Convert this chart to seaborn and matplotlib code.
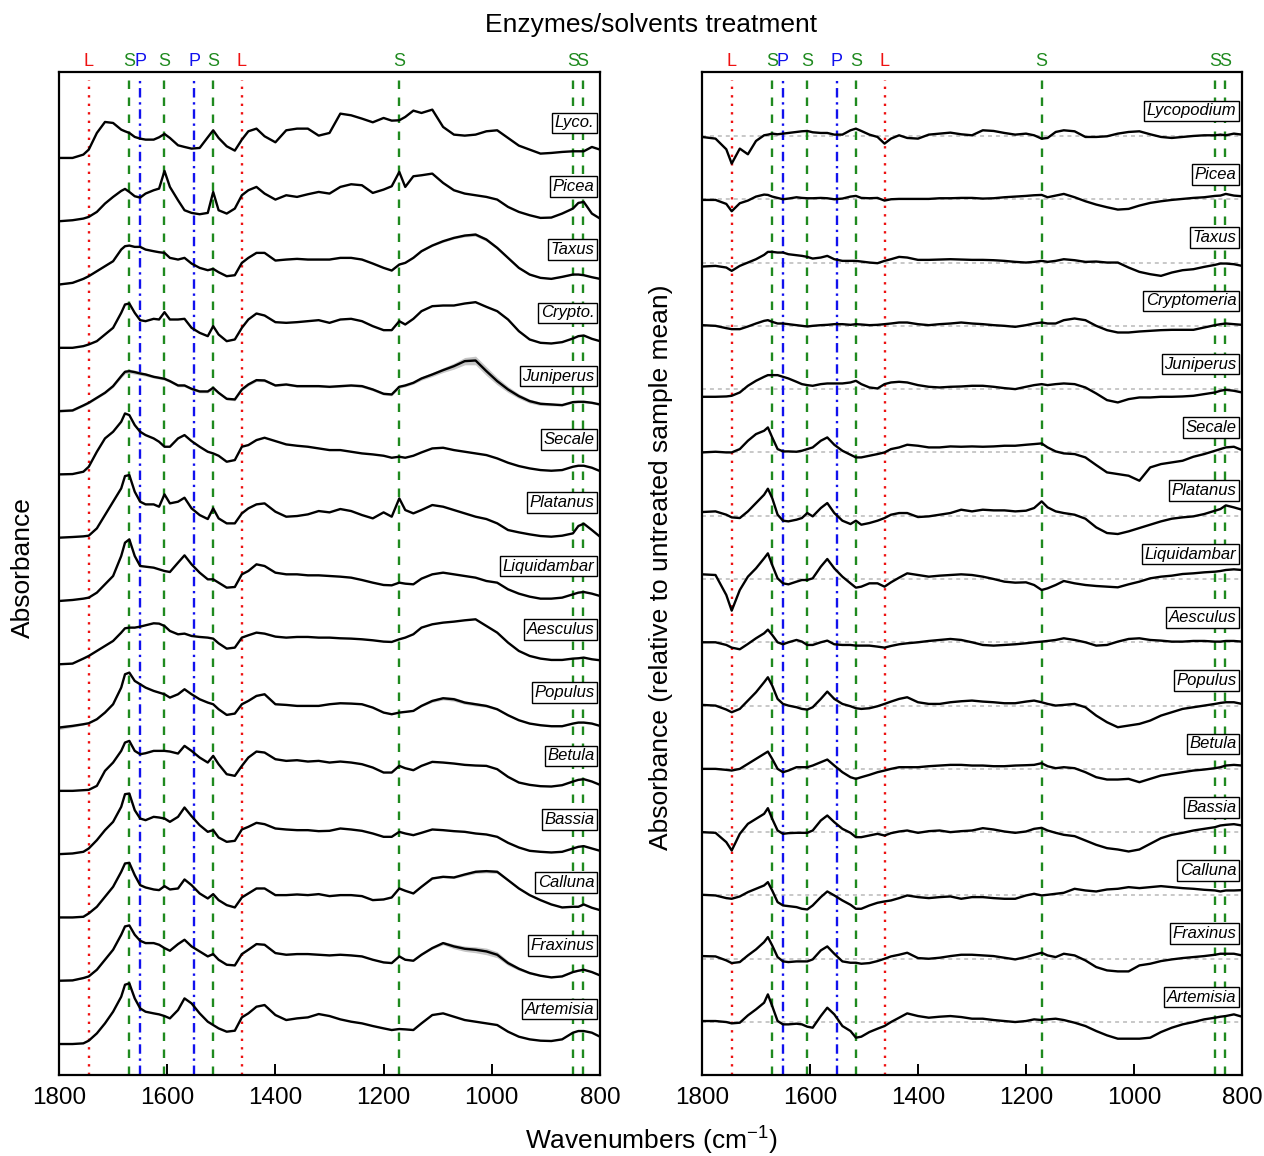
import numpy as np
import pandas as pd
import seaborn as sns
import matplotlib.pyplot as plt
import matplotlib.transforms as mtransforms

# wavenumbers (cm-1) at which the spectra were read
wavenumber = [1800, 1775, 1755, 1745, 1730, 1715, 1700, 1685, 1678, 1670,
              1660, 1650, 1640, 1625, 1615, 1605, 1595, 1580, 1568, 1555,
              1540, 1525, 1515, 1505, 1490, 1475, 1462, 1450, 1435, 1420,
              1400, 1380, 1360, 1340, 1320, 1300, 1280, 1260, 1240, 1220,
              1200, 1185, 1171, 1160, 1145, 1130, 1110, 1090, 1070, 1050,
              1030, 1010, 990, 970, 950, 930, 910, 890, 870, 850,
              840, 830, 815, 800]

# ---- left panel: treated spectra (arbitrary absorbance units) ----
lyco_raw = [0, 0, 10, 25, 75, 108, 105, 85, 80, 75,
            63, 58, 55, 55, 62, 72, 60, 38, 33, 28,
            30, 62, 83, 60, 35, 22, 55, 80, 88, 65,
            47, 83, 88, 88, 67, 75, 133, 128, 118, 107,
            120, 112, 113, 123, 142, 135, 145, 93, 70, 67,
            70, 80, 83, 60, 37, 25, 13, 15, 18, 20,
            20, 20, 33, 25]
picea_raw = [0, 3, 8, 13, 28, 53, 73, 91, 97, 88,
             75, 71, 83, 93, 98, 151, 103, 63, 33, 25,
             21, 25, 88, 33, 23, 38, 78, 93, 103, 83,
             65, 78, 73, 81, 88, 83, 103, 111, 108, 85,
             95, 105, 148, 103, 135, 138, 143, 115, 93, 83,
             78, 73, 65, 43, 28, 18, 10, 11, 23, 38,
             55, 58, 23, 8]
taxus_raw = [0, 5, 17, 25, 40, 55, 70, 105, 115, 117,
             113, 113, 105, 100, 97, 95, 80, 75, 80, 63,
             50, 43, 47, 37, 25, 28, 65, 80, 95, 95,
             72, 75, 77, 75, 75, 75, 80, 80, 75, 63,
             50, 42, 60, 65, 80, 100, 117, 130, 140, 147,
             150, 135, 110, 80, 50, 30, 20, 17, 23, 30,
             30, 28, 22, 17]
crypto_raw = [0, 0, 5, 10, 20, 40, 60, 105, 130, 133,
              105, 83, 80, 87, 85, 107, 85, 85, 87, 60,
              45, 35, 65, 40, 20, 25, 60, 85, 103, 97,
              77, 75, 77, 80, 83, 75, 85, 87, 80, 65,
              53, 53, 80, 70, 87, 110, 125, 127, 127, 133,
              137, 123, 110, 85, 50, 25, 15, 13, 17, 28,
              35, 37, 27, 20]
juniperus_raw = [0, 2, 17, 25, 40, 55, 75, 105, 118, 120,
                 117, 113, 110, 103, 100, 97, 90, 77, 77, 67,
                 59, 59, 70, 55, 37, 35, 65, 80, 93, 92,
                 77, 80, 75, 75, 75, 73, 75, 77, 75, 65,
                 52, 50, 73, 77, 85, 98, 110, 123, 135, 150,
                 152, 120, 90, 65, 45, 30, 22, 20, 18, 27,
                 28, 28, 25, 20]
secale_raw = [0, 1, 8, 23, 68, 108, 128, 158, 183, 178,
              148, 128, 118, 108, 98, 83, 83, 108, 118, 100,
              83, 68, 63, 56, 38, 43, 83, 88, 103, 110,
              100, 90, 86, 83, 78, 73, 73, 68, 63, 60,
              56, 50, 53, 50, 56, 66, 78, 80, 73, 68,
              63, 58, 48, 35, 25, 18, 13, 11, 13, 23,
              26, 26, 20, 10]
platanus_raw = [0, 2, 4, 6, 28, 68, 108, 148, 185, 188,
                138, 108, 100, 100, 93, 130, 103, 108, 120, 88,
                68, 56, 88, 58, 43, 43, 73, 88, 100, 103,
                78, 63, 65, 70, 80, 76, 86, 80, 68, 58,
                76, 63, 118, 83, 73, 83, 98, 93, 83, 73,
                63, 56, 43, 23, 16, 10, 5, 3, 6, 13,
                35, 42, 23, 3]
liquidambar_raw = [0, 3, 7, 10, 25, 50, 75, 135, 175, 185,
                   135, 105, 103, 100, 95, 90, 87, 115, 137, 110,
                   85, 65, 65, 55, 40, 42, 80, 90, 110, 105,
                   85, 80, 80, 77, 77, 75, 73, 70, 63, 55,
                   48, 47, 55, 52, 50, 67, 80, 85, 80, 75,
                   70, 60, 55, 35, 22, 13, 7, 7, 10, 20,
                   25, 27, 22, 15]
aesculus_raw = [0, 2, 17, 25, 40, 55, 70, 95, 108, 110,
                110, 113, 117, 123, 122, 115, 100, 90, 92, 85,
                82, 80, 77, 63, 47, 50, 80, 87, 95, 92,
                83, 80, 82, 82, 80, 80, 78, 77, 75, 72,
                68, 67, 75, 80, 90, 110, 120, 125, 128, 132,
                135, 115, 95, 65, 40, 25, 17, 13, 13, 17,
                18, 20, 15, 12]
populus_raw = [0, 5, 10, 13, 25, 45, 70, 120, 160, 165,
               140, 130, 120, 110, 105, 100, 90, 100, 115, 100,
               85, 75, 70, 55, 38, 42, 70, 80, 95, 100,
               70, 68, 65, 65, 65, 70, 73, 72, 70, 60,
               45, 40, 45, 47, 50, 65, 80, 88, 85, 75,
               70, 65, 55, 37, 22, 12, 7, 4, 4, 12,
               15, 15, 12, 5]
betula_raw = [0, 0, 2, 3, 15, 60, 85, 120, 145, 150,
              120, 110, 113, 120, 120, 120, 118, 112, 135, 120,
              100, 85, 105, 80, 50, 45, 75, 100, 118, 115,
              95, 90, 92, 88, 90, 85, 88, 85, 80, 70,
              55, 55, 75, 68, 62, 75, 87, 85, 82, 78,
              76, 75, 65, 42, 25, 18, 14, 13, 17, 28,
              33, 35, 28, 18]
bassia_raw = [0, 2, 7, 17, 42, 72, 97, 142, 180, 182,
              132, 107, 102, 112, 110, 107, 97, 112, 140, 114,
              87, 67, 72, 50, 37, 40, 74, 82, 94, 90,
              77, 74, 72, 72, 69, 70, 77, 74, 70, 62,
              52, 52, 67, 62, 57, 64, 74, 72, 69, 67,
              62, 59, 52, 34, 20, 10, 7, 5, 7, 17,
              22, 24, 17, 10]
calluna_raw = [0, 0, 2, 12, 32, 62, 92, 137, 162, 164,
               127, 97, 90, 84, 82, 94, 84, 87, 114, 97,
               72, 57, 70, 52, 37, 30, 60, 72, 87, 87,
               67, 67, 69, 67, 70, 64, 67, 67, 64, 52,
               54, 60, 87, 80, 72, 92, 117, 122, 120, 129,
               137, 139, 137, 112, 87, 67, 52, 39, 30, 32,
               32, 39, 29, 22]
fraxinus_raw = [0, 1, 8, 13, 33, 63, 93, 138, 163, 166,
                138, 120, 113, 113, 108, 98, 90, 110, 123, 103,
                88, 73, 80, 63, 48, 46, 80, 93, 110, 108,
                83, 78, 80, 80, 78, 76, 78, 76, 73, 63,
                55, 53, 73, 63, 60, 78, 98, 113, 103, 96,
                93, 88, 78, 53, 36, 23, 15, 10, 13, 26,
                30, 33, 26, 16]
artemisia_raw = [0, 0, 2, 10, 32, 62, 97, 142, 178, 182,
                 137, 107, 97, 92, 89, 84, 77, 102, 137, 122,
                 92, 67, 57, 47, 37, 40, 80, 92, 112, 117,
                 87, 72, 77, 80, 90, 84, 74, 67, 62, 54,
                 47, 42, 45, 44, 42, 62, 87, 92, 82, 72,
                 67, 62, 57, 37, 22, 14, 10, 9, 14, 34,
                 39, 39, 34, 22]

# spread between replicates (grey band), only where visible
taxus_sd = [1, 1, 1, 1, 1, 1, 1, 1, 1, 1,
            1, 1, 1, 1, 1, 1, 1, 1, 1, 1,
            1, 1, 1, 1, 1, 1, 1, 1, 1, 1,
            1, 1, 1, 1, 1, 1, 1, 1, 1, 1,
            1, 1, 1, 1, 1, 2, 2, 3, 3, 4,
            5, 5, 4, 3, 3, 2, 1, 1, 1, 1,
            1, 1, 1, 1]
juniperus_sd = [3, 3, 3, 3, 3, 3, 4, 5, 6, 6,
                6, 5, 5, 4, 4, 4, 4, 4, 4, 4,
                4, 4, 4, 4, 4, 4, 4, 4, 4, 4,
                3, 3, 3, 3, 3, 3, 3, 3, 4, 4,
                4, 4, 4, 4, 4, 5, 6, 7, 9, 11,
                13, 13, 11, 9, 7, 6, 5, 4, 3, 3,
                3, 3, 3, 3]
populus_sd = [6, 4, 2, 1, 1, 1, 1, 1, 1, 1,
              1, 1, 1, 1, 1, 1, 1, 1, 1, 1,
              1, 1, 1, 1, 1, 1, 1, 1, 1, 1,
              1, 1, 1, 1, 1, 1, 1, 1, 1, 1,
              1, 1, 1, 1, 1, 2, 4, 5, 6, 5,
              5, 4, 3, 2, 1, 1, 1, 1, 1, 1,
              1, 1, 1, 1]
calluna_sd = [1, 1, 1, 1, 1, 1, 1, 1, 1, 1,
              1, 1, 1, 1, 1, 1, 1, 1, 1, 1,
              1, 1, 1, 1, 1, 1, 1, 1, 1, 1,
              1, 1, 1, 1, 1, 1, 1, 1, 1, 1,
              1, 1, 1, 1, 1, 1, 2, 3, 3, 4,
              5, 5, 5, 3, 2, 1, 1, 1, 1, 1,
              1, 1, 1, 1]
fraxinus_sd = [1, 1, 1, 1, 1, 1, 1, 1, 1, 1,
               1, 1, 1, 1, 1, 1, 1, 1, 1, 1,
               1, 1, 1, 1, 1, 1, 1, 1, 1, 1,
               1, 1, 1, 1, 1, 1, 1, 1, 1, 1,
               1, 1, 1, 1, 1, 2, 3, 5, 7, 8,
               9, 10, 9, 7, 5, 3, 2, 1, 1, 1,
               1, 1, 1, 1]

# ---- right panel: difference to untreated sample mean ----
lycopodium_rel = [-3, -8, -40, -83, -38, -55, -15, 2, 4, 7,
                  5, 7, 9, 12, 14, 15, 11, 9, 9, 4,
                  4, 17, 22, 15, 4, -3, -23, -8, 2, -6,
                  -8, 4, 7, 10, 5, 2, 17, 15, 9, 4,
                  7, 2, -8, -6, 12, 17, 14, -3, -3, -1,
                  7, 12, 14, 5, -3, -6, -3, 0, 2, 2,
                  4, 2, 7, 4]
picea_rel = [-2, -2, -14, -36, -12, -4, 8, 14, 13, 8,
             4, 0, 2, 6, 4, 3, 3, 4, 3, 0,
             2, 8, 10, 4, 3, 4, -4, 0, 1, 1,
             1, 1, 3, 3, 4, 4, 2, 3, 6, 8,
             10, 12, 13, 6, 11, 16, 6, -6, -16, -24,
             -31, -29, -19, -11, -6, -2, 1, 4, 6, 10,
             11, 16, 11, 9]
taxus_rel = [-12, -10, -15, -25, -10, 0, 10, 23, 32, 32,
             30, 30, 25, 22, 20, 17, 12, 15, 20, 10,
             5, 5, 5, 3, 0, -2, 5, 10, 17, 15,
             8, 8, 9, 10, 9, 8, 8, 7, 5, 2,
             0, 2, 5, 2, 5, 10, 7, 2, 3, 0,
             0, -15, -28, -35, -40, -30, -23, -20, -13, -7,
             -3, -3, -5, -10]
cryptomeria_rel = [2, 0, -7, -10, -10, -2, 7, 15, 17, 12,
                   7, 7, 5, 2, 0, -2, 0, 2, 3, 5,
                   5, 3, 5, 4, 2, 3, 5, 7, 10, 10,
                   5, 2, 5, 7, 10, 7, 5, 2, 0, -3,
                   2, 7, 10, 7, 7, 17, 22, 17, 0, -13,
                   -20, -20, -17, -15, -13, -12, -12, -12, -5, 2,
                   5, 7, 5, 3]
juniperus_rel = [-23, -23, -22, -20, -10, 10, 25, 37, 42, 42,
                 42, 37, 32, 22, 15, 12, 10, 15, 17, 17,
                 17, 20, 25, 15, 5, 2, 15, 20, 22, 20,
                 12, 7, 5, 7, 8, 10, 10, 7, 3, 0,
                 7, 12, 15, 12, 15, 17, 15, 5, -13, -33,
                 -40, -30, -25, -25, -23, -23, -22, -20, -15, -10,
                 -5, -2, -5, -10]
secale_rel = [0, 2, 0, 0, 10, 35, 55, 65, 75, 45,
              10, 3, 3, 2, 5, 10, 15, 35, 45, 23,
              5, -7, -15, -15, -10, -5, 0, 10, 15, 23,
              20, 15, 15, 18, 17, 18, 17, 18, 20, 20,
              23, 25, 27, 15, 3, -3, -5, -15, -38, -60,
              -65, -70, -85, -45, -35, -30, -25, -13, -5, 5,
              10, 15, 17, 7]
platanus_rel = [11, 13, 3, -5, -7, 13, 38, 63, 81, 53,
                3, -15, -17, -12, -7, 8, -2, 23, 38, 8,
                -15, -25, -15, -27, -22, -15, -7, 3, 8, 8,
                -4, -2, 3, 8, 18, 13, 18, 16, 16, 13,
                15, 23, 43, 25, 13, 8, 3, -9, -35, -52,
                -55, -47, -37, -27, -17, -9, -5, -2, 5, 15,
                20, 31, 25, 18]
liquidambar_rel = [14, 12, -48, -95, -33, 7, 32, 62, 77, 42,
                   2, -13, -16, -8, -3, -3, 2, 37, 60, 32,
                   7, -13, -26, -23, -13, -13, -23, -10, 4, 17,
                   12, 7, 10, 12, 14, 12, 7, 0, -8, -11,
                   -10, -18, -33, -28, -18, -6, -13, -18, -21, -23,
                   -25, -16, -8, 2, 7, 10, 15, 17, 20, 22,
                   24, 27, 29, 27]
aesculus_rel = [0, 0, -8, -16, -21, -5, 12, 27, 38, 22,
                0, -6, 0, 7, 2, -8, -8, 0, 5, -6,
                -8, -8, -10, -10, -10, -13, -16, -11, -6, -3,
                0, 4, 7, 10, 7, 0, -8, -10, -8, -6,
                -3, 0, 2, 4, 7, 12, 7, 0, -10, -8,
                2, 10, 12, 7, 5, 2, 2, 4, 4, 2,
                2, 4, 4, 2]
populus_rel = [2, 0, -12, -20, -10, 15, 40, 70, 85, 60,
               20, 5, 0, -5, -10, -12, -5, 20, 42, 20,
               5, -2, -8, -10, -8, -2, 5, 12, 20, 25,
               10, 5, 5, 10, 13, 15, 12, 10, 7, 7,
               12, 15, 10, 5, 0, 2, 5, -5, -30, -50,
               -65, -60, -55, -45, -30, -20, -10, -5, 0, 5,
               8, 10, 10, 5]
betula_rel = [0, 0, -3, -5, 0, 15, 30, 45, 52, 30,
              0, -10, -5, 5, 5, 5, 10, 20, 28, 10,
              -10, -25, -30, -25, -18, -10, -5, 0, 5, 5,
              5, 8, 10, 12, 12, 10, 10, 8, 8, 10,
              11, 12, 17, 8, 2, 5, 2, -10, -25, -32,
              -32, -30, -40, -30, -20, -15, -10, -5, -2, 2,
              5, 10, 12, 10]
bassia_rel = [0, -2, -30, -55, -5, 25, 40, 55, 72, 40,
              5, -5, -3, -2, -2, -2, 5, 35, 50, 30,
              10, -2, -15, -15, -10, -5, -10, -3, 2, 5,
              -2, 3, 5, 0, 3, 5, 12, 8, 2, -2,
              2, 10, 13, 5, -2, -8, -12, -25, -38, -48,
              -52, -58, -52, -35, -18, -8, -2, 5, 10, 15,
              20, 22, 24, 20]
calluna_rel = [2, 0, -8, -10, -3, 10, 20, 30, 40, 15,
               -20, -30, -32, -35, -40, -42, -30, -5, 12, 0,
               -15, -28, -40, -40, -30, -22, -18, -15, -8, 0,
               -5, -8, -5, -3, -10, -5, -5, -8, -10, -10,
               0, 5, 0, 2, 5, 8, 20, 15, 12, 18,
               20, 25, 22, 25, 28, 25, 22, 20, 17, 15,
               12, 15, 15, 16]
fraxinus_rel = [8, 7, -5, -13, -10, 10, 28, 50, 65, 40,
                5, -8, -10, -8, -8, -8, -2, 25, 37, 15,
                -8, -12, -12, -15, -13, -7, 0, 7, 12, 18,
                2, 0, 3, 8, 12, 12, 10, 8, 3, -2,
                5, 12, 18, 10, 5, 15, 10, -5, -25, -35,
                -38, -38, -20, -15, -7, -2, 2, 5, 8, 12,
                15, 15, 15, 10]
artemisia_rel = [3, 3, 0, -4, -2, 20, 38, 58, 83, 48,
                 3, -7, -7, -5, -7, -14, -17, 18, 43, 23,
                 -12, -27, -47, -44, -30, -20, -12, 0, 13, 26,
                 18, 13, 16, 18, 15, 10, 10, 6, 3, 0,
                 3, 8, 6, 8, 10, 6, -2, -12, -27, -40,
                 -50, -50, -50, -47, -30, -17, -7, 0, 8, 13,
                 16, 18, 23, 16]

left_names = ['Lyco.', 'Picea', 'Taxus', 'Crypto.', 'Juniperus', 'Secale',
              'Platanus', 'Liquidambar', 'Aesculus', 'Populus', 'Betula',
              'Bassia', 'Calluna', 'Fraxinus', 'Artemisia']
left_spectra = [lyco_raw, picea_raw, taxus_raw, crypto_raw, juniperus_raw,
                secale_raw, platanus_raw, liquidambar_raw, aesculus_raw,
                populus_raw, betula_raw, bassia_raw, calluna_raw,
                fraxinus_raw, artemisia_raw]
left_sd = {'Taxus': taxus_sd, 'Juniperus': juniperus_sd, 'Populus': populus_sd,
           'Calluna': calluna_sd, 'Fraxinus': fraxinus_sd}

right_names = ['Lycopodium', 'Picea', 'Taxus', 'Cryptomeria', 'Juniperus',
               'Secale', 'Platanus', 'Liquidambar', 'Aesculus', 'Populus',
               'Betula', 'Bassia', 'Calluna', 'Fraxinus', 'Artemisia']
right_spectra = [lycopodium_rel, picea_rel, taxus_rel, cryptomeria_rel,
                 juniperus_rel, secale_rel, platanus_rel, liquidambar_rel,
                 aesculus_rel, populus_rel, betula_rel, bassia_rel,
                 calluna_rel, fraxinus_rel, artemisia_rel]

# marker bands: L = lipid, S = sporopollenin, P = protein
band_pos = [1745, 1670, 1650, 1605, 1550, 1515, 1462, 1171, 850, 832]
band_tag = ['L', 'S', 'P', 'S', 'P', 'S', 'L', 'S', 'S', 'S']

for nm, s in list(zip(left_names, left_spectra)) + list(zip(right_names, right_spectra)):
    if len(s) != len(wavenumber):
        raise ValueError(f'{nm}: {len(s)} values')

step = 190  # vertical offset between stacked spectra

sns.set_style('white')
plt.rcParams['font.family'] = ['Liberation Sans', 'DejaVu Sans']
plt.rcParams['mathtext.fontset'] = 'custom'
plt.rcParams['mathtext.rm'] = 'Liberation Sans'
plt.rcParams['mathtext.default'] = 'regular'
plt.rcParams['text.color'] = 'black'
plt.rcParams['xtick.color'] = 'black'
plt.rcParams['axes.labelcolor'] = 'black'

band_style = {'L': ('#ee1111', (0, (1, 2.6))),
              'S': ('#1f8a1f', (0, (3.6, 3.6))),
              'P': ('#1111ee', (0, (4, 2, 1, 2)))}


def stack_frame(names, spectra):
    rows = []
    for i, (nm, vals) in enumerate(zip(names, spectra)):
        for w, v in zip(wavenumber, vals):
            rows.append((nm, w, v - i * step))
    return pd.DataFrame(rows, columns=['taxon', 'wn', 'y'])


def decorate(ax, names, label_dy, ylim):
    ax.set_xlim(1800, 800)
    ax.set_ylim(*ylim)
    trans_top = mtransforms.blended_transform_factory(ax.transData, ax.transAxes)
    for w, t in zip(band_pos, band_tag):
        c, ls = band_style[t]
        ax.axvline(w, ymin=0, ymax=0.992, color=c, ls=ls, lw=1.7, zorder=1)
        ax.text(w, 1.002, t, color=c, fontsize=13, ha='center', va='bottom',
                transform=trans_top)
    trans_lab = mtransforms.blended_transform_factory(ax.transAxes, ax.transData)
    for i, nm in enumerate(names):
        ax.text(0.99, -i * step + label_dy, nm, transform=trans_lab,
                ha='right', va='center', fontsize=12, style='italic', zorder=5,
                bbox=dict(boxstyle='square,pad=0.17', fc='white', ec='black', lw=1))
    ax.set_xticks([1800, 1600, 1400, 1200, 1000, 800])
    ax.set_yticks([])
    ax.tick_params(axis='x', direction='in', length=8, width=1.4, colors='black',
                   labelsize=17.5, pad=9, bottom=True, top=False)
    ax.set_xlabel('')
    ax.set_ylabel('')
    for sp in ax.spines.values():
        sp.set_linewidth(1.6)
        sp.set_color('black')


fig = plt.figure(figsize=(12.64, 11.56), dpi=100)
ax_l = fig.add_axes([59 / 1264, 1 - 1075 / 1156, 541 / 1264, 1003 / 1156])
ax_r = fig.add_axes([702 / 1264, 1 - 1075 / 1156, 540 / 1264, 1003 / 1156])

# left: absorbance spectra with replicate spread
df_l = stack_frame(left_names, left_spectra)
for i, nm in enumerate(left_names):
    if nm in left_sd:
        y = np.array(left_spectra[i]) - i * step
        sd = np.array(left_sd[nm])
        ax_l.fill_between(wavenumber, y - sd, y + sd, color='#c6c6c6', lw=0, zorder=2)
sns.lineplot(data=df_l, x='wn', y='y', units='taxon', estimator=None,
             color='black', lw=1.7, sort=False, legend=False, ax=ax_l, zorder=3)
decorate(ax_l, left_names, 105, (-2753, 258))

# right: relative to untreated mean, with zero lines
df_r = stack_frame(right_names, right_spectra)
for i in range(len(right_names)):
    ax_r.axhline(-i * step, color='#c4c4c4', ls=(0, (2.2, 2.2)), lw=1.3, zorder=1)
sns.lineplot(data=df_r, x='wn', y='y', units='taxon', estimator=None,
             color='black', lw=1.7, sort=False, legend=False, ax=ax_r, zorder=3)
decorate(ax_r, right_names, 75, (-2819, 192))

fig.text(651 / 1264, 1 - 25 / 1156, 'Enzymes/solvents treatment',
         ha='center', va='center', fontsize=19)
fig.text(651 / 1264, 1 - 1141 / 1156, 'Wavenumbers (cm$^{-1}$)',
         ha='center', va='center', fontsize=19)
fig.text(23 / 1264, 1 - 568 / 1156, 'Absorbance', rotation=90,
         ha='center', va='center', fontsize=19)
fig.text(661 / 1264, 1 - 567 / 1156, 'Absorbance (relative to untreated sample mean)',
         rotation=90, ha='center', va='center', fontsize=19)

fig.savefig('out.png', dpi=100)
